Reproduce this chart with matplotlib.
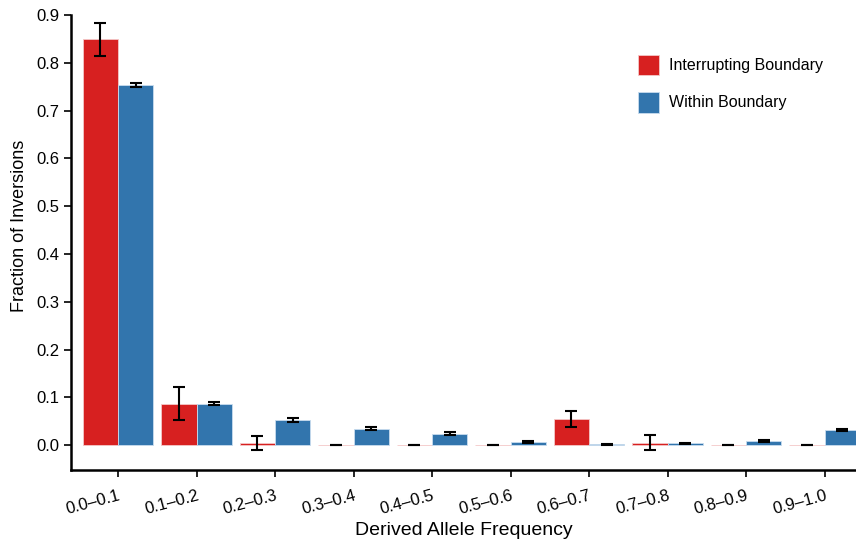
import matplotlib.pyplot as plt
import numpy as np

plt.rcParams['font.family'] = ['Liberation Sans', 'DejaVu Sans']

categories = ['0.0–0.1', '0.1–0.2', '0.2–0.3', '0.3–0.4', '0.4–0.5',
              '0.5–0.6', '0.6–0.7', '0.7–0.8', '0.8–0.9', '0.9–1.0']
interrupting = [0.849, 0.086, 0.004, 0.0, 0.0, 0.0, 0.054, 0.005, 0.0, 0.0]
interrupting_lo = [0.814, 0.052, -0.010, 0.0, 0.0, 0.0, 0.038, -0.011, 0.0, 0.0]
interrupting_hi = [0.884, 0.122, 0.019, 0.0, 0.0, 0.0, 0.072, 0.021, 0.0, 0.0]
within = [0.754, 0.087, 0.052, 0.034, 0.024, 0.007, 0.002, 0.004, 0.009, 0.031]
within_err = [0.0045, 0.004, 0.004, 0.003, 0.003, 0.002, 0.001, 0.001, 0.002, 0.002]

red = '#d72020'
blue = '#3275ad'

x = np.arange(len(categories))
w = 0.45

fig = plt.figure(figsize=(8.56, 5.47), dpi=100)
ax = fig.add_axes([0.083, 0.1408, 0.917, 0.8318])

ax.bar(x - w / 2, interrupting, w, color=red, edgecolor='#f4c8c8', linewidth=0.6,
       label='Interrupting Boundary')
ax.bar(x + w / 2, within, w, color=blue, edgecolor='#c8dcef', linewidth=0.6,
       label='Within Boundary')

r_err = [np.array(interrupting) - np.array(interrupting_lo),
         np.array(interrupting_hi) - np.array(interrupting)]
ax.errorbar(x - w / 2, interrupting, yerr=r_err, fmt='none', ecolor='black',
            elinewidth=1.5, capsize=4, capthick=1.5)
ax.errorbar(x + w / 2, within, yerr=within_err, fmt='none', ecolor='black',
            elinewidth=1.5, capsize=4, capthick=1.5)

ax.set_xlim(-0.6, 9.4)
ax.set_ylim(-0.052, 0.9)
ax.set_yticks(np.arange(0, 0.91, 0.1))
ax.set_yticklabels(['%.1f' % v for v in np.arange(0, 0.91, 0.1)])
ax.set_xticks(x)
ax.set_xticklabels(categories, rotation=15, ha='right', va='top',
                   rotation_mode='anchor')

for s in ['top', 'right']:
    ax.spines[s].set_visible(False)
for s in ['left', 'bottom']:
    ax.spines[s].set_linewidth(1.8)
ax.tick_params(axis='both', labelsize=12, width=1.2, length=5, colors='black')
ax.tick_params(axis='x', pad=8)

ax.set_xlabel('Derived Allele Frequency', fontsize=14)
ax.set_ylabel('Fraction of Inversions', fontsize=13)
ax.yaxis.set_label_coords(-0.055, 0.536)

ax.legend(loc='upper left', bbox_to_anchor=(0.745, 0.9),
          bbox_transform=fig.transFigure, frameon=False, borderpad=0,
          borderaxespad=0, fontsize=11.5, handlelength=1.35,
          handleheight=1.6, handletextpad=0.6, labelspacing=1.05)

fig.savefig('out.png', dpi=100)
